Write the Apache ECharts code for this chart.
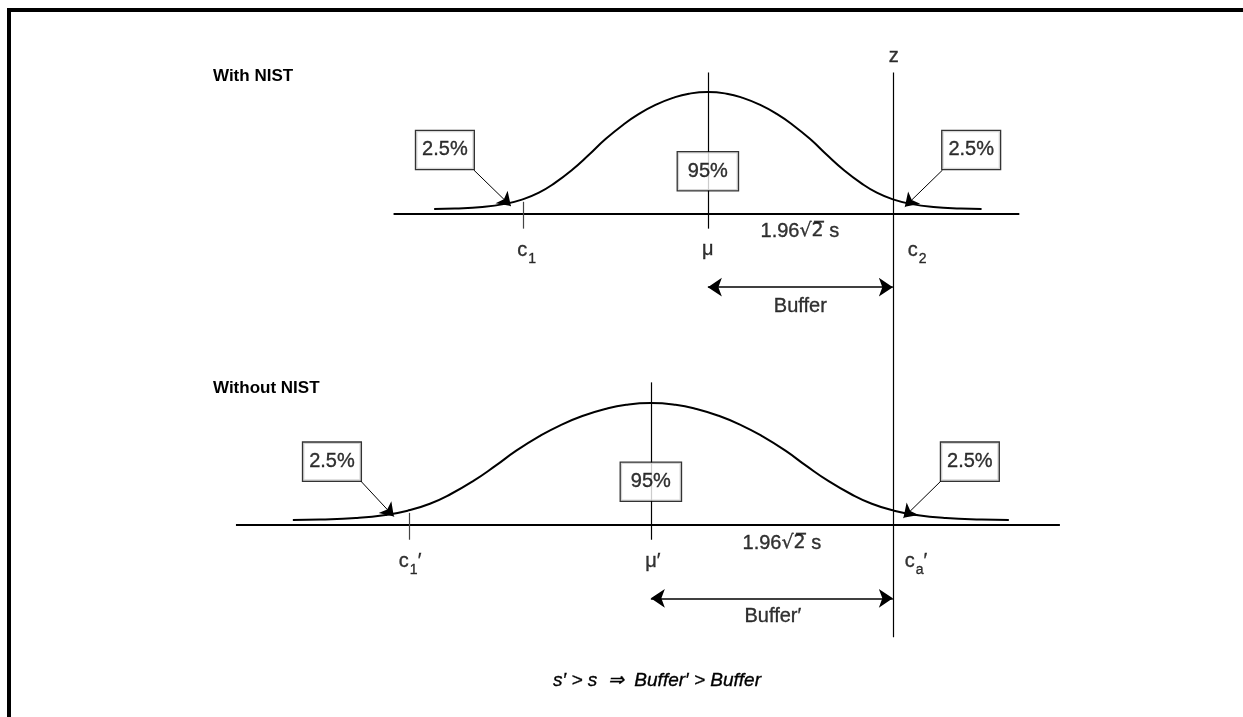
<!DOCTYPE html>
<html><head><meta charset="utf-8">
<script src="https://cdn.jsdelivr.net/npm/echarts@6/dist/echarts.min.js"></script>
<style>
html,body{margin:0;padding:0;background:#fff;overflow:hidden;}
#frame{position:absolute;left:7px;top:8px;right:-10px;bottom:-10px;border-left:4px solid #000;border-top:4px solid #000;}
#chart{position:absolute;left:0;top:0;width:1243px;height:717px;}
</style></head><body>
<div id="frame"></div><div id="chart"></div>
<script>
// ---- values (x in units of s; heights in % of peak) ----
const curveTopX   = [-2.9,-2.68,-2.39,-2.15,-1.97,-1.79,-1.62,-1.44,-1.26,-1.09,-0.9,-0.73,-0.55,-0.37,-0.2,0,0.2,0.37,0.55,0.73,0.9,1.09,1.26,1.44,1.62,1.79,1.97,2.15,2.39,2.68,2.9];
const curveBotX   = [-4.397,-4.109,-3.73,-3.416,-3.181,-2.945,-2.723,-2.488,-2.252,-2.03,-1.781,-1.559,-1.323,-1.088,-0.866,-0.604,-0.342,-0.12,0.115,0.351,0.573,0.822,1.044,1.28,1.515,1.737,1.973,2.208,2.522,2.901,3.189];
const curveHeights= [4.1,4.5,5.8,8.3,11.8,17.5,25.5,36,48.5,61,73,82,89.6,95.2,98.6,100,98.6,95.2,89.6,82,73,61,48.5,36,25.5,17.5,11.8,8.3,5.8,4.5,4.1];

const zValue   = 1.96;           // critical value z (= c2 = ca')
const topMu    = 0;              // mu
const topC1    = -1.96;          // c1
const botMu    = -0.604;         // mu'
const botC1    = -3.168;         // c1'
const topAxisExtent = [-3.33, 3.30];
const botAxisExtent = [-5.0, 3.73];
const tailShares   = ['2.5%', '2.5%'];
const centerShare  = '95%';
const panelTitles  = ['With NIST', 'Without NIST'];
const footnote     = 's\u2032 > s  \u21D2  Buffer\u2032 > Buffer';

// ---- helpers ----
const FONT = 'Liberation Sans';
const stroke = {textBorderColor: '#000', textBorderWidth: 0.35};
const rich = {
  m: Object.assign({fontFamily: FONT, fontSize: 20, color: '#000', lineHeight: 22, verticalAlign: 'top'}, stroke),
  s: Object.assign({fontFamily: FONT, fontSize: 14, color: '#000', lineHeight: 14, padding: [11, 0, 0, 1], verticalAlign: 'top'}, stroke),
  r: Object.assign({fontFamily: 'DejaVu Sans', fontSize: 19, color: '#000', lineHeight: 22, verticalAlign: 'top'}, stroke)
};
function zip(xs, ys) { return xs.map((x, i) => [x, ys[i]]); }
function txt(value, formatter, align) {
  return {value, label: {show: true, position: 'inside', formatter, align: align || 'center', verticalAlign: 'middle', rich}};
}
function box(value, text) {
  return {value, label: Object.assign({show: true, position: 'inside', formatter: text, align: 'center', verticalAlign: 'middle',
    fontFamily: FONT, fontSize: 20, lineHeight: 20, color: '#000', backgroundColor: '#fff',
    borderColor: '#000', borderWidth: 1.3, padding: text.length > 3 ? [9, 6, 9, 6] : [9, 10, 9, 10]}, stroke)};
}
const thin = {color: '#000', width: 1.2, opacity: 1};
const tick = {color: '#444', width: 1.2, opacity: 1};
const base = {color: '#000', width: 2, opacity: 1};

function panel(g, mu, c1, curveX, axisExt, zTop, zBottom, muTop, lab) {
  return [
    {type: 'line', xAxisIndex: g, yAxisIndex: g, data: zip(curveX, curveHeights), smooth: 0.5,
     symbol: 'none', lineStyle: {color: '#000', width: 2}, z: 3, silent: true},
    {type: 'lines', coordinateSystem: 'cartesian2d', xAxisIndex: g, yAxisIndex: g, polyline: false, z: 2, silent: true,
     lineStyle: {opacity: 1, curveness: 0},
     data: [
       {coords: [[axisExt[0], 0], [axisExt[1], 0]], lineStyle: base},
       {coords: [[mu, muTop], [mu, -12]], lineStyle: thin},
       {coords: [[c1, 10], [c1, -12]], lineStyle: tick},
       {coords: [[zValue, zTop], [zValue, zBottom]], lineStyle: thin}
     ]},
    {type: 'lines', coordinateSystem: 'cartesian2d', xAxisIndex: g, yAxisIndex: g, polyline: false, z: 4, silent: true,
     symbol: ['none', 'arrow'], symbolSize: 13,
     lineStyle: {color: '#000', width: 1, opacity: 1, curveness: 0},
     data: [{coords: lab.leftArrow}, {coords: lab.rightArrow}]},
    {type: 'lines', coordinateSystem: 'cartesian2d', xAxisIndex: g, yAxisIndex: g, polyline: false, z: 4, silent: true,
     symbol: ['arrow', 'arrow'], symbolSize: 14,
     lineStyle: {color: '#000', width: 1.5, opacity: 1, curveness: 0},
     data: [{coords: [[mu, -60], [zValue, -60]]}]},
    {type: 'scatter', xAxisIndex: g, yAxisIndex: g, symbolSize: 1, itemStyle: {color: 'rgba(0,0,0,0)'}, z: 10, silent: true,
     data: lab.items}
  ];
}

const topLab = {
  leftArrow: [[-2.479, 36], [-2.087, 6.5]],
  rightArrow: [[2.486, 36], [2.087, 6]],
  items: [
    box([-2.786, 52.5], tailShares[0]),
    box([2.79, 52.5], tailShares[1]),
    box([topMu, 35], centerShare),
    txt([topMu, -30], '{m|\u03BC}'),
    txt([-1.92, -31], '{m|c}{s|1}'),
    txt([2.119, -31], '{m|c}{s|2}', 'left'),
    txt([0.975, -15], '{m|1.96}{r|\u221A2\u0305}{m| s}'),
    txt([0.98, -77], '{m|Buffer}'),
    txt([1.97, 128], '{m|z}')
  ]
};
const botLab = {
  leftArrow: [[-3.676, 36], [-3.327, 7]],
  rightArrow: [[2.468, 36], [2.072, 6]],
  items: [
    box([-3.983, 52], tailShares[0]),
    box([2.776, 52], tailShares[1]),
    box([botMu, 35.5], centerShare),
    txt([-0.583, -31], '{m|\u03BC\u2032}'),
    txt([-3.274, -31], '{m|c}{s|1}{m|\u2032}', 'left'),
    txt([2.087, -31], '{m|c}{s|a}{m|\u2032}', 'left'),
    txt([0.784, -16], '{m|1.96}{r|\u221A2\u0305}{m| s}'),
    txt([0.689, -76], '{m|Buffer\u2032}')
  ]
};

const option = {
  animation: false,
  title: [
    {text: panelTitles[0], left: 208, top: 63, textStyle: {fontFamily: FONT, fontWeight: 'bold', fontSize: 17, color: '#000'}},
    {text: panelTitles[1], left: 208, top: 375, textStyle: {fontFamily: FONT, fontWeight: 'bold', fontSize: 17, color: '#000'}},
    {text: footnote, left: 652, top: 666, textAlign: 'center', textStyle: Object.assign({fontFamily: FONT, fontStyle: 'italic', fontWeight: 'normal', fontSize: 19, color: '#000'}, stroke)}
  ],
  grid: [
    {left: 0, width: 1243, top: 31, height: 305},
    {left: 0, width: 1243, top: 336, height: 311.1}
  ],
  xAxis: [
    {type: 'value', gridIndex: 0, min: -7.5, max: 5.67, show: false},
    {type: 'value', gridIndex: 1, min: -7.5, max: 5.67, show: false}
  ],
  yAxis: [
    {type: 'value', gridIndex: 0, min: -100, max: 150, show: false},
    {type: 'value', gridIndex: 1, min: -100, max: 155, show: false}
  ],
  series: [
    ...panel(0, topMu, topC1, curveTopX, topAxisExtent, 116, -100, 116, topLab),
    ...panel(1, botMu, botC1, curveBotX, botAxisExtent, 155, -92, 117, botLab)
  ]
};
const chart = echarts.init(document.getElementById('chart'));
chart.setOption(option);
</script>
</body></html>
